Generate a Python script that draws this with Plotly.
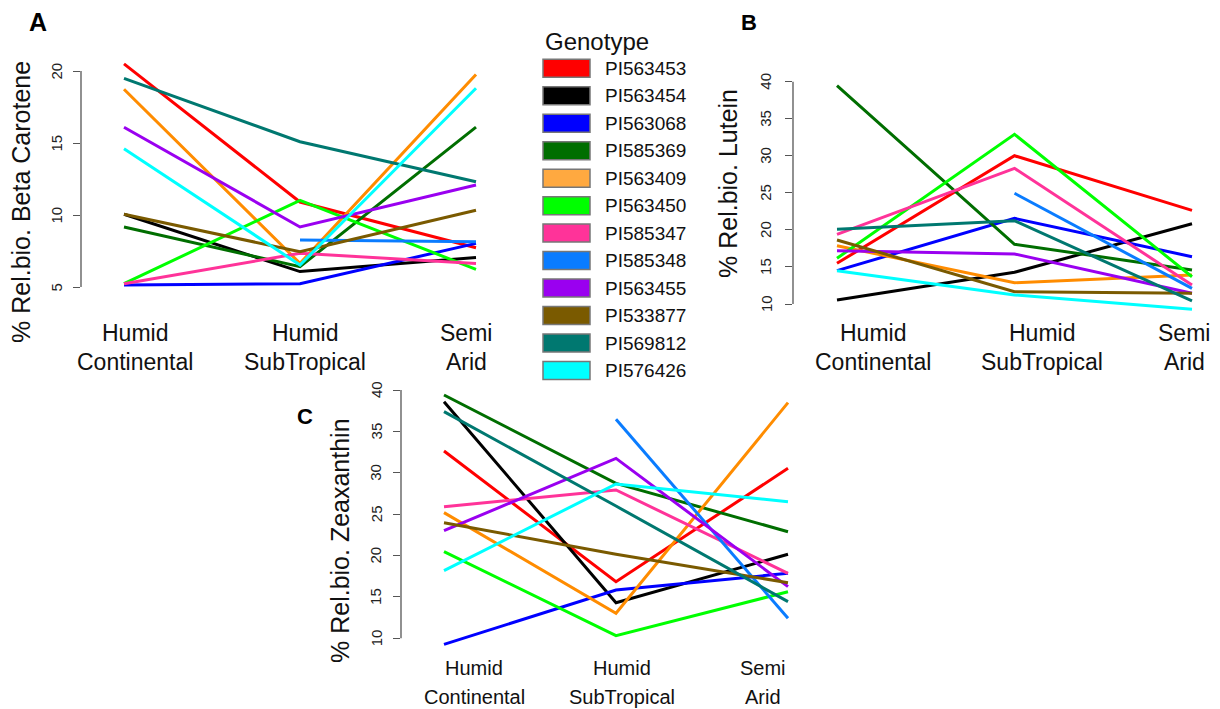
import plotly.graph_objects as go

W, H = 1220, 709
FONT = "Liberation Sans, Arial, sans-serif"

# Climate zones (x categories) and their two-line labels
climates = ["Humid Continental", "Humid SubTropical", "Semi Arid"]
label_top = ["Humid", "Humid", "Semi"]
label_bottom = ["Continental", "SubTropical", "Arid"]

genotypes = ["PI563453", "PI563454", "PI563068", "PI585369", "PI563409", "PI563450",
             "PI585347", "PI585348", "PI563455", "PI533877", "PI569812", "PI576426"]
line_colors = ["#FF0000", "#000000", "#0000FF", "#006E00", "#FF8C00", "#00FF00",
               "#FF3399", "#0A7CFF", "#9A00F0", "#7A5A00", "#007870", "#00FFFF"]
swatch_colors = ["#FF0000", "#000000", "#0000FF", "#006E00", "#FFA940", "#00FF00",
                 "#FF3399", "#0A7CFF", "#9A00F0", "#7A5A00", "#007870", "#00FFFF"]

# % relative bioaccessibility, one list per climate, genotype order as above
beta_hc = [20.49, 10.05, 5.14, 9.17, 18.73, 5.23, 5.23, None, 16.09, 10.05, 19.49, 14.60]
beta_hst = [10.90, 6.07, 5.23, 6.41, 6.64, 11.02, 7.34, 8.26, 9.17, 7.45, 15.09, 6.53]
beta_sa = [7.73, 7.04, 8.03, 16.10, 19.75, 6.23, 6.64, 8.15, 12.08, 10.33, 12.31, 18.80]

lutein_hc = [15.49, 10.54, 14.50, 39.46, 17.87, 16.17, 19.40, None, 17.19, 18.64, 20.08, 14.50]
lutein_hst = [30.01, 14.28, 21.56, 18.06, 12.87, 32.90, 28.31, 24.94, 16.75, 11.66, 21.24, 11.22]
lutein_sa = [22.64, 20.84, 16.38, 14.59, 13.90, 13.68, 12.56, 12.11, 11.45, 11.45, 10.41, 9.29]

zea_hc = [32.63, 38.59, 9.27, 39.40, 25.18, 20.47, 25.90, None, 23.00, 23.97, 37.38, 18.17]
zea_hst = [16.84, 14.30, 15.84, 28.72, 13.02, 10.32, 27.92, 36.46, 31.74, 20.15, 25.98, 28.64]
zea_sa = [30.54, 20.15, 17.85, 22.88, 38.47, 15.63, 17.85, 12.41, 16.24, 16.72, 14.43, 26.51]

beta_ticks = [5, 10, 15, 20]
lutein_ticks = [10, 15, 20, 25, 30, 35, 40]
zea_ticks = [10, 15, 20, 25, 30, 35, 40]


def lin(pa, va, pb, vb, p):
    return va + (p - pa) * (vb - va) / (pb - pa)


# Panel geometry in pixels: domain extents and two pixel/value anchors per axis
panels = [
    dict(key="", letter="A", letter_xy=(37.5, 22), letter_size=25,
         title="% Rel.bio. Beta Carotene", title_xy=(21, 202),
         series=(beta_hc, beta_hst, beta_sa), ticks=beta_ticks, tick_shift=-25.5,
         xdom=(81, 505), xref=(124, 0, 476, 2),
         ydom=(300, 55), yref=(287, 5, 71, 20),
         lab_shift=(11, 5, -10), lab_y=(333, 362), lab_size=23),
    dict(key="2", letter="B", letter_xy=(749, 23), letter_size=22,
         title="% Rel.bio. Lutein", title_xy=(728, 184),
         series=(lutein_hc, lutein_hst, lutein_sa), ticks=lutein_ticks, tick_shift=-27,
         xdom=(793, 1215), xref=(837, 0, 1192, 2),
         ydom=(320, 70), yref=(304, 10, 81.7, 40),
         lab_shift=(36, 27, -8), lab_y=(333, 362), lab_size=23),
    dict(key="3", letter="C", letter_xy=(305, 416), letter_size=22,
         title="% Rel.bio. Zeaxanthin", title_xy=(340, 540),
         series=(zea_hc, zea_hst, zea_sa), ticks=zea_ticks, tick_shift=-25,
         xdom=(401, 800), xref=(444, 0, 788, 2),
         ydom=(650, 380), yref=(638.3, 10, 390, 40),
         lab_shift=(30, 6, -25), lab_y=(668, 697), lab_size=20),
]

fig = go.Figure()
annotations = []
shapes = []

for p in panels:
    k = p["key"]
    xname, yname = "x" + k, "y" + k
    hc, hst, sa = p["series"]
    for i, g in enumerate(genotypes):
        fig.add_trace(go.Scatter(
            x=[0, 1, 2], y=[hc[i], hst[i], sa[i]], mode="lines", name=g,
            line=dict(color=line_colors[i], width=3), connectgaps=False,
            showlegend=False, xaxis=xname, yaxis=yname, hoverinfo="skip"))

    xa, xb = p["xdom"]
    pa, va, pb, vb = p["xref"]
    xaxis = dict(domain=[xa / W, xb / W], range=[lin(pa, va, pb, vb, xa), lin(pa, va, pb, vb, xb)],
                 visible=False, anchor=yname)
    yb, yt = p["ydom"]
    qa, wa, qb, wb = p["yref"]
    yaxis = dict(domain=[1 - yb / H, 1 - yt / H],
                 range=[lin(qa, wa, qb, wb, yb), lin(qa, wa, qb, wb, yt)],
                 anchor=xname, tickvals=p["ticks"], showticklabels=False,
                 ticks="outside", ticklen=7, tickwidth=1.3, tickcolor="#555",
                 showline=False, showgrid=False, zeroline=False)
    fig.update_layout({"xaxis" + k: xaxis, "yaxis" + k: yaxis})

    # axis spine spanning only the tick range
    shapes.append(dict(type="line", xref=xname + " domain", yref=yname,
                       x0=0, x1=0, y0=min(p["ticks"]), y1=max(p["ticks"]),
                       line=dict(color="#555", width=1.3)))

    # rotated tick labels, parallel to the axis
    for t in p["ticks"]:
        annotations.append(dict(text=str(t), xref=xname + " domain", yref=yname, x=0, y=t,
                                xshift=p["tick_shift"], textangle=-90, showarrow=False,
                                xanchor="center", yanchor="middle",
                                font=dict(family=FONT, size=15, color="#222")))

    # climate labels
    for i in range(len(climates)):
        for txt, ypx in ((label_top[i], p["lab_y"][0]), (label_bottom[i], p["lab_y"][1])):
            annotations.append(dict(text=txt, xref=xname, yref="paper", x=i, y=1 - ypx / H,
                                    xshift=p["lab_shift"][i], showarrow=False,
                                    xanchor="center", yanchor="middle",
                                    font=dict(family=FONT, size=p["lab_size"], color="#111")))

    # y title
    tx, ty = p["title_xy"]
    annotations.append(dict(text=p["title"], xref="paper", yref="paper", x=tx / W, y=1 - ty / H,
                            textangle=-90, showarrow=False, xanchor="center", yanchor="middle",
                            font=dict(family=FONT, size=25, color="#111")))
    # panel letter
    lx, ly = p["letter_xy"]
    annotations.append(dict(text="<b>" + p["letter"] + "</b>", xref="paper", yref="paper",
                            x=lx / W, y=1 - ly / H, showarrow=False,
                            xanchor="center", yanchor="middle",
                            font=dict(family=FONT, size=p["letter_size"], color="#000")))

# Genotype key
annotations.append(dict(text="Genotype", xref="paper", yref="paper", x=543 / W, y=1 - 41 / H,
                        showarrow=False, xanchor="left", yanchor="middle",
                        font=dict(family=FONT, size=24, color="#111")))
for i, g in enumerate(genotypes):
    cy = 68.3 + 27.47 * i
    shapes.append(dict(type="rect", xref="paper", yref="paper",
                       x0=543 / W, x1=590 / W, y0=1 - (cy + 9) / H, y1=1 - (cy - 9) / H,
                       fillcolor=swatch_colors[i], line=dict(color="#777", width=1.5)))
    annotations.append(dict(text=g, xref="paper", yref="paper", x=603 / W, y=1 - cy / H,
                            showarrow=False, xanchor="left", yanchor="middle",
                            font=dict(family=FONT, size=19, color="#111")))

fig.update_layout(width=W, height=H, margin=dict(l=0, r=0, t=0, b=0),
                  paper_bgcolor="white", plot_bgcolor="white",
                  showlegend=False, annotations=annotations, shapes=shapes)

fig.write_html("out.html")
